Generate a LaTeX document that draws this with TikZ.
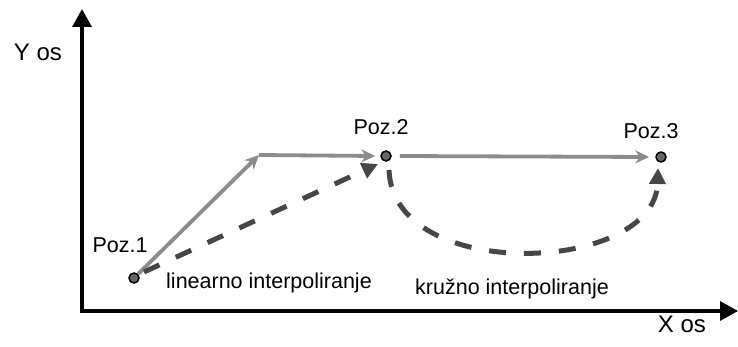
\documentclass[tikz,border=0pt]{standalone}
\usepackage{fontspec}
\setmainfont{Liberation Sans}
\usetikzlibrary{arrows.meta}
\begin{document}
\begin{tikzpicture}[x=1pt,y=-1pt,
  axis/.style={line width=3.5pt,-{Triangle[length=18pt,width=19pt]}},
  grayarrow/.style={draw=black!45,line width=3.8pt,-{Stealth[length=14pt,width=13pt]}},
  dasharrow/.style={draw=black!72,line width=5pt,dash pattern=on 17pt off 18pt,-{Triangle[length=16pt,width=16pt]}},
  dot/.style={circle,draw=black,line width=1.5pt,fill=black!60,inner sep=0pt,minimum size=10pt},
  lbl/.style={font=\fontsize{21.5}{25}\selectfont,inner sep=0pt},
  axlbl/.style={font=\fontsize{24}{28}\selectfont,inner sep=0pt}]
\useasboundingbox (0,0) rectangle (738,347);
% axes
\coordinate (ytop) at (82,9);
\coordinate (xend) at (738,311);
\draw[axis] (82,312.5) -- (ytop);
\draw[axis] (80.25,311) -- (xend);
% points
\node[dot] (p1) at (134,278) {};
\node[dot] (p2) at (386,156) {};
\node[dot] (p3) at (661,157) {};
\coordinate (c) at (259,155);
% solid gray arrows
\draw[grayarrow] (p1) -- (c);
\draw[grayarrow] (c) -- ([xshift=-5pt]p2.west);
\draw[grayarrow] ([xshift=8pt]p2.east) -- ([xshift=-6pt]p3.west);
% dashed paths
\draw[dasharrow] (144,272) -- (378,164);
\draw[dasharrow] (389,170) .. controls (393,284) and (655,274) .. (658,168);
% labels
\node[axlbl] (ly) at (38,52) {Y os};
\node[axlbl] (lx) at (682,324) {X os};
\node[lbl] (l1) at (120,245) {Poz.1};
\node[lbl] (l2) at (381,127) {Poz.2};
\node[lbl] (l3) at (651,131) {Poz.3};
\node[lbl] (lin) at (269,283) {linearno interpoliranje};
\node[lbl] (kr) at (512,289) {kružno interpoliranje};
\end{tikzpicture}
\end{document}
